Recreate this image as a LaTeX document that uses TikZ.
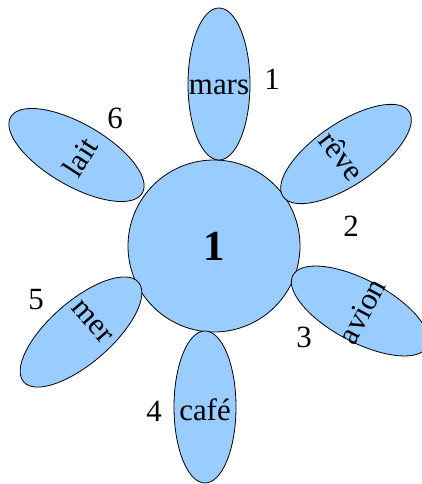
\documentclass[tikz,border=0pt]{standalone}
\usepackage{fontspec}
\setmainfont{Liberation Serif}
\usetikzlibrary{shapes.geometric}
\definecolor{petalfill}{HTML}{99CCFF}
\tikzset{
  % --- centre disc and petals ---
  heart/.style={circle, draw=black, fill=petalfill, line width=0.8bp,
                minimum size=172bp, inner sep=0pt,
                font=\fontsize{43}{48}\selectfont\bfseries},
  petal/.style={ellipse, draw=black, fill=petalfill, line width=0.8bp,
                minimum width=62bp, minimum height=152bp, inner sep=0pt},
  % --- texts ---
  word/.style={inner sep=0pt, font=\fontsize{31}{36}\selectfont},
  num/.style={inner sep=0pt, font=\fontsize{31}{36}\selectfont},
}
\begin{document}
\begin{tikzpicture}[x=1bp, y=-1bp]
  \useasboundingbox (0,0) rectangle (421,484);
  % centre first, petals drawn over it
  \node[heart] (heart) at (214,246) {1};

  \node[petal]             (mars)  at (219,84)    {};
  \node[petal, rotate=-56] (reve)  at (346,154)   {};
  \node[petal, rotate=62]  (avion) at (360,311)   {};
  \node[petal]             (cafe)  at (205,407)   {};
  \node[petal, rotate=-49] (mer)   at (81,332)    {};
  \node[petal, rotate=60]  (lait)  at (76.5,155)  {};

  % words on the petals
  \node[word]              (mars-w)  at (219,87)  {mars};
  \node[word, rotate=-52]  (reve-w)  at (342,156) {rêve};
  \node[word, rotate=62]   (avion-w) at (362,311) {avion};
  \node[word]              (cafe-w)  at (205,410) {café};
  \node[word, rotate=-49]  (mer-w)   at (92,322)  {mer};
  \node[word, rotate=57]   (lait-w)  at (80,157)  {lait};

  % petal numbers
  \node[num] (n1) at (272,79)  {1};
  \node[num] (n2) at (351,226) {2};
  \node[num] (n3) at (304,337) {3};
  \node[num] (n4) at (154,411) {4};
  \node[num] (n5) at (36,300)  {5};
  \node[num] (n6) at (115,118) {6};
\end{tikzpicture}
\end{document}
